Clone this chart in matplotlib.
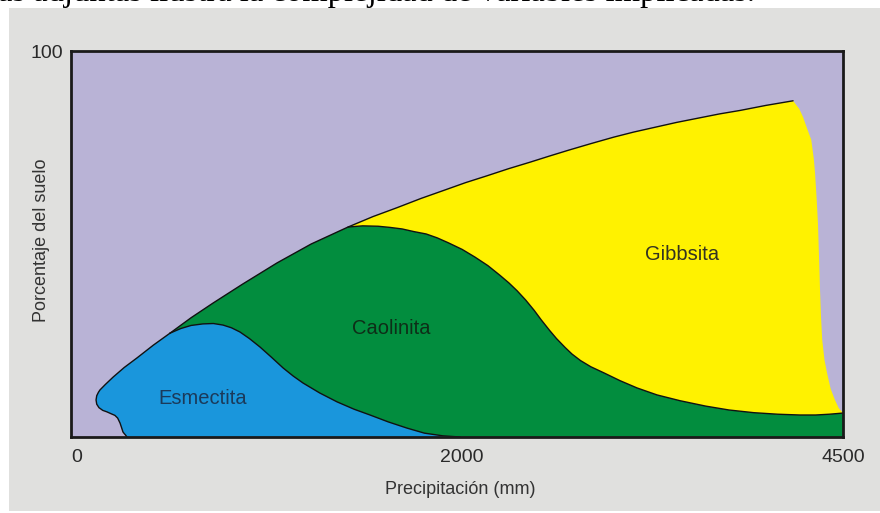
import matplotlib
matplotlib.use("Agg")
import matplotlib.pyplot as plt
import numpy as np

plt.rcParams['font.family'] = ['Liberation Sans', 'DejaVu Sans']

# ---- data (schematic diagram, x in axis units 0-4500, y in % 0-100) ----
x_ticks = [0, 2280, 4500]
x_ticklabels = ['0', '2000', '4500']
y_ticks = [100]
y_ticklabels = ['100']

# upper envelope of the weathered minerals
envelope_x = [577, 700, 828, 1000, 1201, 1400, 1615, 1760, 1900, 2040, 2180, 2300, 2420, 2550,
              2676, 2790, 2900, 3030, 3165, 3280, 3400, 3530, 3655, 3780, 3900, 4050, 4209]
envelope_y = [26.9, 30.9, 34.7, 39.6, 45.1, 50.0, 54.4, 57.1, 59.4, 61.8, 64.0, 65.9, 67.6, 69.5,
              71.2, 72.8, 74.3, 76.0, 77.7, 79.0, 80.2, 81.5, 82.6, 83.7, 84.6, 85.9, 87.1]

# left outline of Esmectita (from the bottom up to the envelope)
esm_outer_x = [326, 318, 310, 303, 295, 286, 272, 256, 235, 210, 185, 163, 150, 146, 150, 160,
               169, 200, 245, 310, 385, 480, 577]
esm_outer_y = [0, 0.5, 0.9, 1.3, 2.4, 3.6, 4.9, 5.6, 6.0, 6.5, 6.9, 7.6, 8.5, 9.6, 10.7, 11.6,
               12.2, 13.6, 15.5, 18.0, 20.5, 23.8, 26.9]

# Esmectita / Caolinita boundary
esm_top_x = [577, 640, 700, 769, 830, 886, 935, 985, 1040, 1102, 1170, 1236, 1295, 1352, 1450,
             1551, 1650, 1743, 1850, 1959, 2060, 2168, 2268]
esm_top_y = [26.9, 28.1, 28.9, 29.3, 29.4, 29.0, 28.3, 27.2, 25.5, 23.3, 20.6, 17.9, 15.8, 14.0,
             11.4, 9.1, 7.2, 5.7, 3.9, 2.3, 1.0, 0.3, 0.0]

# Caolinita / Gibbsita boundary
cao_top_x = [1615, 1700, 1790, 1859, 1930, 2000, 2070, 2134, 2200, 2280, 2355, 2430, 2500, 2553,
             2600, 2650, 2700, 2740, 2790, 2830, 2880, 2920, 2970, 3030, 3107, 3200, 3300, 3416,
             3550, 3700, 3835, 3980, 4120, 4249, 4340, 4420, 4500]
cao_top_y = [54.4, 54.7, 54.6, 54.3, 53.9, 53.2, 52.6, 51.6, 50.3, 48.6, 46.6, 44.4, 41.9, 39.9,
             37.9, 35.5, 32.8, 30.4, 27.6, 25.5, 23.2, 21.5, 19.8, 18.2, 16.6, 14.6, 12.7, 10.9,
             9.4, 8.0, 7.0, 6.3, 5.9, 5.7, 5.7, 5.9, 6.2]

# right edge of Gibbsita
gib_edge_x = [4209, 4245, 4267, 4290, 4315, 4330, 4337, 4346, 4354, 4360, 4366, 4372, 4379,
              4392, 4407, 4428, 4453, 4475, 4500]
gib_edge_y = [87.1, 85.0, 82.9, 80.0, 77.0, 72.0, 68.4, 62.0, 55.4, 47.0, 38.1, 31.0, 25.1,
              20.0, 16.6, 12.5, 9.6, 7.5, 6.2]

labels = ['Esmectita', 'Caolinita', 'Gibbsita']
label_x = [769, 1865, 3562]
label_y = [10.1, 28.2, 47.2]

# ---- colours ----
c_bg = '#B9B3D6'
c_yellow = '#FFF200'
c_green = '#028D3E'
c_blue = '#1A96DC'
c_panel = '#E0E0DE'

fig = plt.figure(figsize=(8.8, 5.13), dpi=100, facecolor='white')

# grey panel behind the diagram
bg = fig.add_axes([9 / 880, 2 / 513, 1 - 9 / 880, 1 - 10 / 513], zorder=-5)
bg.set_facecolor(c_panel)
bg.set_xticks([])
bg.set_yticks([])
for s in bg.spines.values():
    s.set_visible(False)

fig.text(-2 / 880, 1 - 1 / 513, 'as adjuntas ilustra la complejidad de variables implicadas.',
         family='Liberation Serif', fontsize=23.5, va='baseline', ha='left', color='black')

ax = fig.add_axes([71 / 880, 76 / 513, 772 / 880, 386 / 513], zorder=1)
ax.set_facecolor(c_bg)
ax.set_xlim(0, 4500)
ax.set_ylim(0, 100)

ex = np.array(envelope_x, float)
ey = np.array(envelope_y, float)
cx = np.array(cao_top_x, float)
cy = np.array(cao_top_y, float)

# Caolinita (green)
m = ex <= cao_top_x[0]
gx = list(ex[m]) + list(cx[1:]) + [4500, envelope_x[0]]
gy = list(ey[m]) + list(cy[1:]) + [0, 0]
ax.fill(gx, gy, color=c_green, lw=0, zorder=1)

# Gibbsita (yellow)
m2 = ex >= cao_top_x[0]
yx = list(ex[m2]) + gib_edge_x[1:] + list(cx[::-1][1:])
yy = list(ey[m2]) + gib_edge_y[1:] + list(cy[::-1][1:])
ax.fill(yx, yy, color=c_yellow, lw=0, zorder=2)

# Esmectita (blue)
bx = esm_outer_x + esm_top_x[1:]
by = esm_outer_y + esm_top_y[1:]
ax.fill(bx, by, color=c_blue, lw=0, zorder=3)

# outlines
lc = '#111111'
for xs, ys in [(envelope_x, envelope_y), (esm_outer_x, esm_outer_y),
               (esm_top_x, esm_top_y), (cao_top_x, cao_top_y)]:
    ax.plot(xs, ys, color=lc, lw=1.0, zorder=4, solid_joinstyle='round',
            solid_capstyle='round')

label_colors = ['#1B3A5A', '#0E2E18', '#333322']
for t, x, y, c in zip(labels, label_x, label_y, label_colors):
    ax.text(x, y, t, ha='center', va='center', fontsize=14.5, color=c, zorder=5)

for s in ax.spines.values():
    s.set_color('#1a1a1a')
    s.set_linewidth(2.0)
    s.set_zorder(6)

ax.set_xticks(x_ticks)
ax.set_xticklabels(x_ticklabels)
ax.set_yticks(y_ticks)
ax.set_yticklabels(y_ticklabels)
ax.tick_params(axis='both', length=0, labelsize=14, colors='#2a2a2a')
ax.tick_params(axis='x', pad=9)
ax.tick_params(axis='y', pad=6)
ax.get_xticklabels()[0].set_ha('left')

ax.set_xlabel('Precipitación (mm)', fontsize=13, color='#333333', va='center')
ax.xaxis.set_label_coords(0.504, -0.137)
ax.set_ylabel('Porcentaje del suelo', fontsize=13, color='#333333', va='center')
ax.yaxis.set_label_coords(-0.0376, 0.51)

fig.savefig('out.png', dpi=100, facecolor='white')
